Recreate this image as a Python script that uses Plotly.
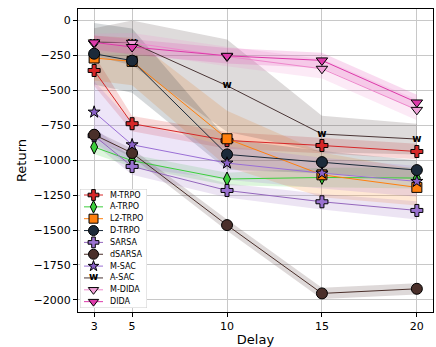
import plotly.graph_objects as go

delays = [3, 5, 10, 15, 20]

names = ["M-TRPO", "A-TRPO", "L2-TRPO", "D-TRPO", "SARSA", "dSARSA", "M-SAC", "A-SAC", "M-DIDA", "DIDA"]

m_trpo = [-358, -739, -859, -895, -938]
a_trpo = [-906, -1004, -1135, -1124, -1128]
l2_trpo = [-269, -293, -847, -1105, -1195]
d_trpo = [-238, -288, -959, -1014, -1071]
sarsa = [-825, -1045, -1217, -1298, -1360]
dsarsa = [-818, -949, -1465, -1954, -1921]
m_sac = [-656, -890, -1021, -1093, -1152]
a_sac = [-155, -160, -467, -813, -849]
m_dida = [-165, -160, -258, -346, -640]
dida = [-157, -190, -253, -286, -587]

m_trpo_sd = [110, 55, 60, 55, 55]
a_trpo_sd = [50, 45, 45, 70, 75]
l2_trpo_sd = [160, 170, 200, 160, 130]
d_trpo_sd = [220, 230, 110, 80, 70]
sarsa_sd = [60, 60, 50, 55, 65]
dsarsa_sd = [30, 30, 40, 40, 40]
m_sac_sd = [220, 160, 120, 110, 110]
a_sac_sd = [100, 160, 330, 130, 110]
m_dida_sd = [70, 70, 70, 70, 75]
dida_sd = [50, 55, 55, 55, 55]

means = [m_trpo, a_trpo, l2_trpo, d_trpo, sarsa, dsarsa, m_sac, a_sac, m_dida, dida]
sds = [m_trpo_sd, a_trpo_sd, l2_trpo_sd, d_trpo_sd, sarsa_sd, dsarsa_sd, m_sac_sd, a_sac_sd, m_dida_sd, dida_sd]

colors = ["#d62728", "#3ccf3c", "#ff7f0e", "#1b2a3a", "#9467bd", "#4a2f2a", "#9a6fd6", "#4a3535", "#ee88cc", "#dd3aaa"]
marker_colors = ["#d62728", "#3ccf3c", "#ff7f0e", "#1b2a3a", "#9a72d0", "#4a2f2a", "#8a60c8", "#000000", "#f0a0d8", "#dd3aaa"]
symbols = ["cross", "diamond-tall", "square", "circle", "cross", "circle", "star", None, "triangle-down", "triangle-down"]
sizes = [10, 10, 10, 11, 10, 11, 9, 8, 10, 10]
leg_sizes = [9, 9, 9, 10, 9, 10, 8, 8, 9, 9]


def rgba(hexc, a):
    h = hexc.lstrip("#")
    r, g, b = int(h[0:2], 16), int(h[2:4], 16), int(h[4:6], 16)
    return f"rgba({r},{g},{b},{a})"


def series_trace(x, y, c, mc, sym, sz, xa="x", ya="y"):
    if sym is None:
        return go.Scatter(x=x, y=y, mode="lines+text", text=["<b>w</b>"] * len(x),
                          textposition="middle center",
                          textfont=dict(family="DejaVu Sans", size=sz + 2, color=mc),
                          line=dict(color=c, width=1), showlegend=False,
                          xaxis=xa, yaxis=ya)
    return go.Scatter(x=x, y=y, mode="lines+markers",
                      line=dict(color=c, width=1),
                      marker=dict(symbol=sym, size=sz, color=mc, line=dict(color="#000000", width=1)),
                      showlegend=False, xaxis=xa, yaxis=ya)


fig = go.Figure()

for name, m, s, c in zip(names, means, sds, colors):
    up = [a + b for a, b in zip(m, s)]
    lo = [a - b for a, b in zip(m, s)]
    fig.add_trace(go.Scatter(
        x=delays + delays[::-1], y=up + lo[::-1], fill="toself",
        fillcolor=rgba(c, 0.18), line=dict(width=0), mode="lines",
        hoverinfo="skip", showlegend=False))

for name, m, c, mc, sym, sz in zip(names, means, colors, marker_colors, symbols, sizes):
    t = series_trace(delays, m, c, mc, sym, sz)
    t.name = name
    fig.add_trace(t)

# custom compact legend drawn on an auxiliary hidden subplot (pixel-like units)
LEG_W, LEG_H = 67, 119
fig.add_trace(go.Scatter(x=[0, LEG_W, LEG_W, 0, 0], y=[0, 0, LEG_H, LEG_H, 0], mode="lines",
                         fill="toself", fillcolor="rgba(255,255,255,0.9)",
                         line=dict(color="#cccccc", width=1), showlegend=False,
                         hoverinfo="skip", xaxis="x2", yaxis="y2"))
row_h = 11.85
for i, (name, c, mc, sym, sz) in enumerate(zip(names, colors, marker_colors, symbols, leg_sizes)):
    yy = 6 + row_h * i
    fig.add_trace(go.Scatter(x=[4, 23], y=[yy, yy], mode="lines", line=dict(color=c, width=1),
                             showlegend=False, hoverinfo="skip", xaxis="x2", yaxis="y2"))
    fig.add_trace(series_trace([13.5], [yy], c, mc, sym, sz, xa="x2", ya="y2"))
    fig.add_annotation(x=28, y=yy, xref="x2", yref="y2", text=name, showarrow=False,
                       xanchor="left", yanchor="middle",
                       font=dict(family="DejaVu Sans", size=8, color="black"))

fig.update_layout(
    width=436, height=347,
    margin=dict(l=78, r=3, t=9, b=35),
    plot_bgcolor="white", paper_bgcolor="white",
    font=dict(family="DejaVu Sans", size=11, color="black"),
    showlegend=False,
    xaxis=dict(range=[2.15, 20.85], tickvals=delays, ticktext=[str(d) for d in delays],
               showgrid=True, gridcolor="#c8c8c8", gridwidth=1,
               showline=True, linecolor="black", linewidth=1, mirror=True,
               ticks="outside", ticklen=4, tickcolor="black", zeroline=False,
               title=dict(text="Delay", standoff=3)),
    yaxis=dict(range=[-2087, 82],
               tickvals=[0, -250, -500, -750, -1000, -1250, -1500, -1750, -2000],
               showgrid=True, gridcolor="#c8c8c8", gridwidth=1,
               showline=True, linecolor="black", linewidth=1, mirror=True,
               ticks="outside", ticklen=4, tickcolor="black", zeroline=False,
               title=dict(text="Return", standoff=4)),
    xaxis2=dict(domain=[(80 - 78) / 355, (80 + LEG_W - 78) / 355], range=[0, LEG_W],
                visible=False, anchor="y2", fixedrange=True),
    yaxis2=dict(domain=[(312 - 189 - LEG_H) / 303, (312 - 189) / 303], range=[LEG_H, 0],
                visible=False, anchor="x2", fixedrange=True),
)

fig.write_html("out.html")
